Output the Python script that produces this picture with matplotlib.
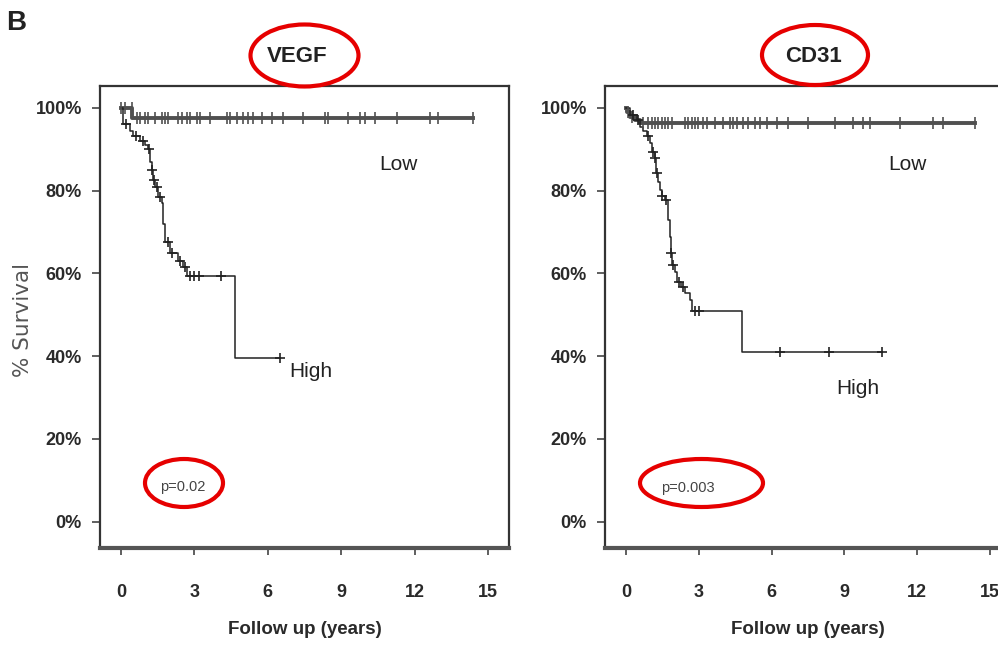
import numpy as np
import matplotlib
matplotlib.use("Agg")
import matplotlib.pyplot as plt
from matplotlib.patches import Ellipse

SANS = ['Liberation Sans', 'DejaVu Sans']

# VEGF panel: Kaplan-Meier steps (years, % survival), follow-up end, censored times
vegf_low_t = [0, 0.45]
vegf_low_s = [100, 97.5]
vegf_low_end = 14.4
vegf_low_cens = [0.0, 0.16, 0.44, 0.64, 0.78, 0.98, 1.12, 1.39, 1.66, 1.80, 1.93, 2.34, 2.48,
                 2.68, 2.82, 3.09, 3.23, 3.64, 4.32, 4.46, 4.73, 5.00, 5.20, 5.41, 5.75, 6.16,
                 6.63, 7.45, 8.34, 8.47, 9.29, 9.77, 9.98, 10.38, 11.27, 12.63, 12.97, 14.4]

vegf_high_t = [0, 0.1, 0.37, 0.5, 0.78, 0.98, 1.12, 1.19, 1.25, 1.32, 1.39, 1.52, 1.66,
               1.73, 1.8, 2.0, 2.34, 2.55, 2.69, 4.66]
vegf_high_s = [100, 96, 94.5, 93.3, 92, 91, 90, 87, 85, 82.5, 81, 78.5, 77, 72, 67.5, 65,
               63, 61.5, 59.3, 39.5]
vegf_high_end = 6.5
vegf_high_cens = [0.2, 0.6, 0.9, 1.15, 1.28, 1.35, 1.45, 1.6, 1.9, 2.1, 2.4, 2.6, 2.8, 3.0,
                  3.2, 4.1, 6.5]

# CD31 panel
cd31_low_t = [0, 0.03, 0.16, 0.37, 0.58]
cd31_low_s = [100, 99.1, 97.9, 97.1, 96.4]
cd31_low_end = 14.38
cd31_low_cens = [0.1, 0.25, 0.71, 0.92, 1.06, 1.19, 1.33, 1.47, 1.61, 1.74, 1.88, 2.43, 2.57,
                 2.71, 2.84, 2.98, 3.19, 3.32, 3.67, 4.01, 4.29, 4.42, 4.56, 4.83, 5.04, 5.32,
                 5.52, 5.80, 6.21, 6.69, 7.51, 8.61, 9.37, 9.78, 10.05, 11.29, 12.66, 13.07,
                 14.38]

cd31_high_t = [0, 0.16, 0.44, 0.58, 0.71, 0.85, 0.99, 1.06, 1.19, 1.26, 1.33, 1.40, 1.47,
               1.61, 1.74, 1.81, 1.84, 1.88, 2.02, 2.09, 2.29, 2.43, 2.64, 2.71, 4.77]
cd31_high_s = [100, 98.3, 97.1, 95.5, 94.3, 93.1, 91.5, 89.4, 87.8, 84.2, 82.2, 80.2, 78.6,
               77.8, 72.9, 68.9, 64.9, 62.1, 60.4, 58.0, 56.8, 55.2, 53.6, 50.8, 41.0]
cd31_high_end = 10.54
cd31_high_cens = [0.3, 0.5, 0.9, 1.1, 1.2, 1.3, 1.5, 1.65, 1.85, 1.95, 2.2, 2.35, 2.85, 3.0,
                  6.35, 8.38, 10.54]

x_ticks = [0, 3, 6, 9, 12, 15]
y_ticks = [0, 20, 40, 60, 80, 100]
y_ticklabels = ['0%', '20%', '40%', '60%', '80%', '100%']


def km_curve(ax, t, s, end, cens, color, lw, marker, ms):
    t = np.asarray(t, dtype=float)
    s = np.asarray(s, dtype=float)
    xs = np.append(t, end)
    ys = np.append(s, s[-1])
    ax.step(xs, ys, where='post', color=color, lw=lw, zorder=3)
    cens = np.asarray(cens, dtype=float)
    idx = np.searchsorted(t, cens, side='right') - 1
    ax.plot(cens, s[idx], ls='none', marker=marker, ms=ms, mew=1.2,
            color=color, zorder=4)


def style_axes(ax):
    ax.set_xlim(-0.86, 15.86)
    ax.set_ylim(-6.4, 105.3)
    ax.set_xticks(x_ticks)
    ax.set_yticks(y_ticks)
    ax.set_yticklabels(y_ticklabels)
    for side in ['top', 'left', 'right']:
        ax.spines[side].set_linewidth(1.6)
        ax.spines[side].set_color('#333333')
    ax.spines['bottom'].set_linewidth(3.0)
    ax.spines['bottom'].set_color('#555555')
    ax.tick_params(axis='y', length=6, width=1.2, pad=7, color='#444444')
    ax.tick_params(axis='x', length=5, width=1.2, pad=21, color='#444444')
    for lab in ax.get_xticklabels() + ax.get_yticklabels():
        lab.set_family(SANS)
        lab.set_fontsize(13)
        lab.set_fontweight('bold')
        lab.set_color('#2a2a2a')
    ax.set_xlabel('Follow up (years)', family=SANS, fontsize=13.5,
                  fontweight='bold', color='#2a2a2a', labelpad=14)


fig = plt.figure(figsize=(9.98, 6.5), dpi=100)
W, H = 998, 650

ax1 = fig.add_axes([100 / W, 1 - 548 / H, 409 / W, 462 / H])
ax2 = fig.add_axes([605 / W, 1 - 548 / H, 406 / W, 462 / H])

km_curve(ax1, vegf_low_t, vegf_low_s, vegf_low_end, vegf_low_cens, '#505050', 2.8, '|', 8)
km_curve(ax1, vegf_high_t, vegf_high_s, vegf_high_end, vegf_high_cens, '#222222', 1.1, '+', 7)
km_curve(ax2, cd31_low_t, cd31_low_s, cd31_low_end, cd31_low_cens, '#505050', 2.8, '|', 8)
km_curve(ax2, cd31_high_t, cd31_high_s, cd31_high_end, cd31_high_cens, '#222222', 1.1, '+', 7)

for ax in (ax1, ax2):
    style_axes(ax)

fig.text(23 / W, 1 - 320 / H, '% Survival', family='DejaVu Sans', fontsize=15.5,
         color='#555555', rotation=90, ha='center', va='center')

txt = dict(family=SANS, fontsize=15, color='#222222', ha='center', va='center')
ax1.text(11.36, 86.2, 'Low', **txt)
ax1.text(7.74, 36.2, 'High', **txt)
ax2.text(11.58, 86.2, 'Low', **txt)
ax2.text(9.56, 32.1, 'High', **txt)

ptxt = dict(family=SANS, fontsize=10.5, color='#444444', ha='center', va='center')
ax1.text(2.53, 8.4, 'p=0.02', **ptxt)
ax2.text(2.55, 8.2, 'p=0.003', **ptxt)

fig.text(297 / W, 1 - 57 / H, 'VEGF', family=SANS, fontsize=16, fontweight='bold',
         color='#222222', ha='center', va='center')
fig.text(813 / W, 1 - 57 / H, 'CD31', family=SANS, fontsize=16, fontweight='bold',
         color='#222222', ha='center', va='center')
fig.text(16 / W, 1 - 23 / H, 'B', family=SANS, fontsize=20, fontweight='bold',
         color='#222222', ha='center', va='center')

# red highlight rings, in pixel units of the figure
rings = [(304.5, 55.5, 108, 62), (815, 55, 106, 60),
         (184, 483, 78, 48), (701.5, 483, 123, 48)]
for cx, cy, w, h in rings:
    fig.add_artist(Ellipse((cx / W, 1 - cy / H), w / W, h / H, transform=fig.transFigure,
                           fill=False, edgecolor='#e60000', lw=3.0))

fig.savefig('out.png', dpi=100, facecolor='white')
